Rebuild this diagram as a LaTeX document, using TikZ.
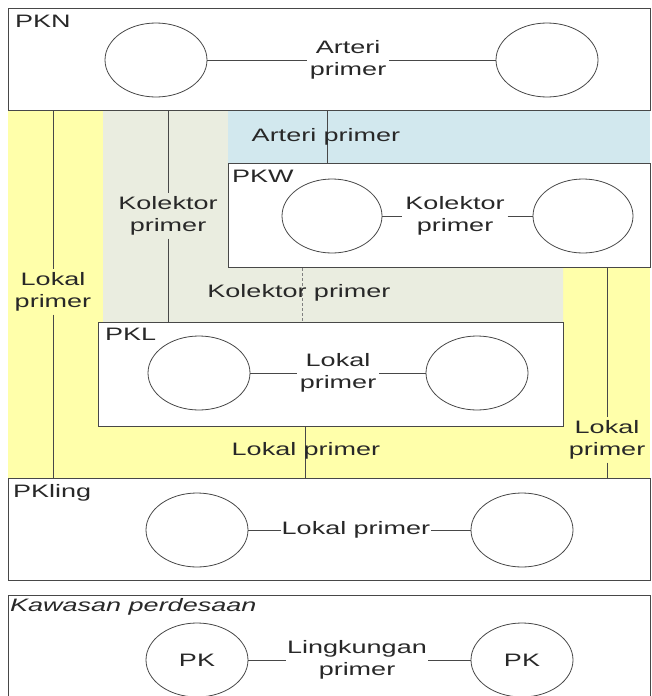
\documentclass[tikz,border=0pt]{standalone}
\usepackage{fontspec}
\setmainfont{Liberation Sans}[FakeStretch=1.5]
\usetikzlibrary{shapes.geometric}
\definecolor{bandyellow}{RGB}{255,255,170}
\definecolor{bandgrey}{RGB}{234,237,224}
\definecolor{bandblue}{RGB}{210,232,238}
\definecolor{inkline}{RGB}{72,72,72}
\definecolor{inktext}{RGB}{40,40,40}

\begin{document}
\begin{tikzpicture}[x=1pt,y=-1pt,
  font=\fontsize{18}{22}\selectfont,
  every node/.style={text=inktext},
  region/.style={draw=inkline, line width=1.1pt, fill=white, anchor=north west, inner sep=0pt},
  town/.style={ellipse, draw=inkline, line width=0.8pt, fill=white,
               minimum width=102pt, minimum height=74pt, inner sep=0pt},
  road/.style={draw=inkline, line width=0.8pt},
  faintroad/.style={draw=gray, line width=0.8pt, dash pattern=on 3pt off 2pt},
  boxtag/.style={anchor=north west, inner sep=0pt},
  roadname/.style={align=center, inner sep=3pt},
]
\useasboundingbox (0,0) rectangle (651,696);
\clip (0,0) rectangle (651,696);

% coloured bands between the boxes
\fill[bandyellow] (8,110) rectangle (650,478);
\fill[bandgrey] (103,110) -- (228,110) -- (228,267) -- (563,267)
                -- (563,322) -- (103,322) -- cycle;
\fill[bandblue] (228,110) rectangle (650,163);

% boxes of the centres
\node[region, minimum width=642pt, minimum height=102pt] (pkn)    at (8,8)     {};
\node[region, minimum width=422pt, minimum height=104pt] (pkw)    at (228,163) {};
\node[region, minimum width=465pt, minimum height=104pt] (pkl)    at (98,322)  {};
\node[region, minimum width=642pt, minimum height=102pt] (pkling) at (8,478)   {};
\node[region, minimum width=642pt, minimum height=110pt] (desa)   at (8,595)   {};

\node[boxtag] (tpkn)    at (15,15)  {PKN};
\node[boxtag] (tpkw)    at (232,170) {PKW};
\node[boxtag] (tpkl)    at (105,328) {PKL};
\node[boxtag] (tpkling) at (13,484) {PKling};
\node[boxtag] (tdesa)   at (10,598) {\itshape Kawasan perdesaan};

% PKN
\node[town] (n1) at (156,60) {};
\node[town] (n2) at (547,60) {};
\node[roadname] (nr) at (348,60) {Arteri\\primer};
\draw[road] (n1) -- (nr) -- (n2);

% PKW
\node[town, minimum width=100pt] (w1) at (332,216) {};
\node[town, minimum width=100pt] (w2) at (583,216) {};
\node[roadname] (wr) at (455,216) {Kolektor\\primer};
\draw[road] (w1) -- (wr) -- (w2);

% PKL
\node[town] (l1) at (199,373) {};
\node[town] (l2) at (477,373) {};
\node[roadname] (lr) at (338,373) {Lokal\\primer};
\draw[road] (l1) -- (lr) -- (l2);

% PKling
\node[town] (k1) at (197,530) {};
\node[town] (k2) at (522,530) {};
\node[roadname, inner sep=1pt] (kr) at (356,530) {Lokal primer};
\draw[road] (k1) -- (kr) -- (k2);

% Kawasan perdesaan
\node[town] (d1) at (197,660) {PK};
\node[town] (d2) at (522,660) {PK};
\node[roadname, inner sep=1pt] (dr) at (357,660) {Lingkungan\\primer};
\draw[road] (d1) -- (dr) -- (d2);

% links between the levels
\node[roadname] (v1) at (53,292)  {Lokal\\primer};
\draw[road] (v1 |- pkn.south) -- (v1) -- (v1 |- pkling.north);

\node[roadname] (v2) at (168,216) {Kolektor\\primer};
\draw[road] (v2 |- pkn.south) -- (v2) -- (v2 |- pkl.north);

\node[roadname] (v3) at (607,440) {Lokal\\primer};
\draw[road] (v3 |- pkw.south) -- (v3) -- (v3 |- pkling.north);

\coordinate (a3) at (327,0);
\draw[road] (a3 |- pkn.south) -- (a3 |- pkw.north);
\node[roadname] (v4) at (326,137) {Arteri primer};

\coordinate (a4) at (302,0);
\draw[faintroad] (a4 |- pkw.south) -- (a4 |- pkl.north);
\node[roadname] (v5) at (299,293) {Kolektor primer};

\coordinate (a5) at (305,0);
\draw[road] (a5 |- pkl.south) -- (a5 |- pkling.north);
\node[roadname] (v6) at (306,451) {Lokal primer};
\end{tikzpicture}
\end{document}
